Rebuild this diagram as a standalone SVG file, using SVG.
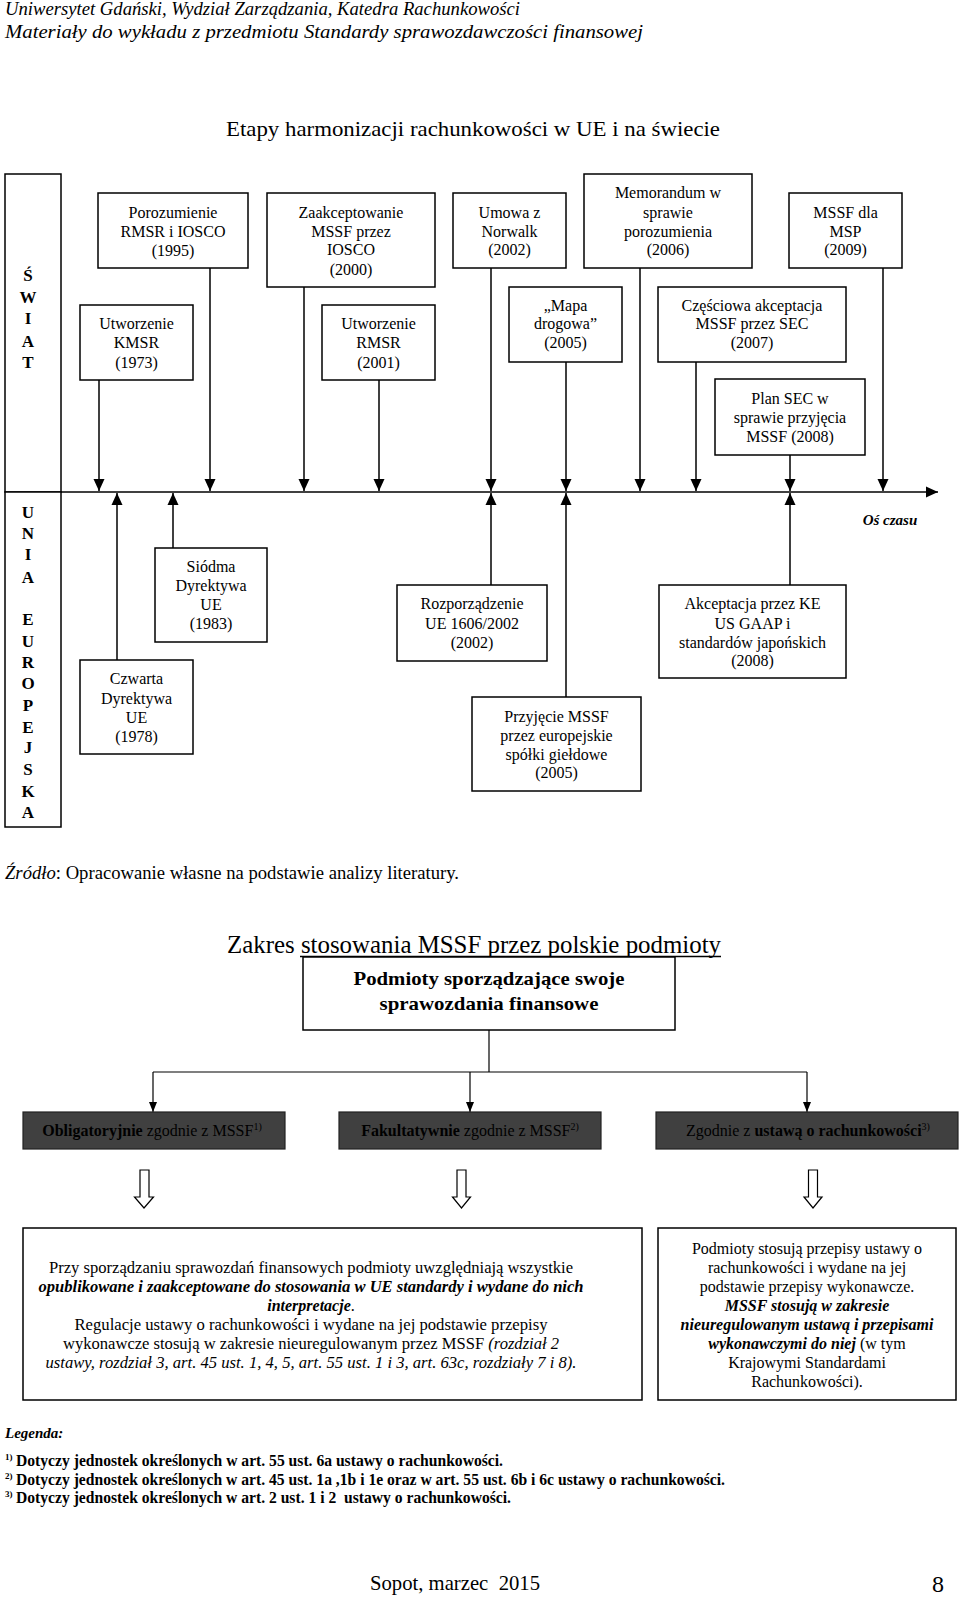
<svg xmlns="http://www.w3.org/2000/svg" width="960" height="1597" viewBox="0 0 960 1597">
<style>
.box{fill:#fff;stroke:#000;stroke-width:1.5}
.dark{fill:#404040;stroke:#222;stroke-width:1.2}
.t{font-family:"Liberation Serif","Times New Roman",serif;font-size:16px;text-anchor:middle;fill:#000}
.s{font-family:"Liberation Serif","Times New Roman",serif;fill:#000}
.L{font-family:"Liberation Serif","Times New Roman",serif;font-size:17px;font-weight:bold;text-anchor:middle;fill:#000}
.c{stroke:#000;stroke-width:1.5;fill:none}
.c2{stroke:#000;stroke-width:1.2;fill:none}
.b{font-weight:bold}
.i{font-style:italic}
.bi{font-weight:bold;font-style:italic}
.hollow{fill:#fff;stroke:#000;stroke-width:1.2}
</style>
<defs>
<marker id="ah" markerUnits="userSpaceOnUse" markerWidth="12" markerHeight="12" refX="12" refY="6" orient="auto"><path d="M0,0.5 L12,6 L0,11.5 z" fill="#000"/></marker>
<marker id="ah2" markerUnits="userSpaceOnUse" markerWidth="10" markerHeight="8" refX="10" refY="4" orient="auto"><path d="M0,0 L10,4 L0,8 z" fill="#000"/></marker>
</defs>
<rect width="960" height="1597" fill="#fff"/>

<!-- header -->
<g id="header">
<text class="s i" x="5" y="15" font-size="19" textLength="515" lengthAdjust="spacingAndGlyphs">Uniwersytet Gdański, Wydział Zarządzania, Katedra Rachunkowości</text>
<text class="s i" x="5" y="38" font-size="19" textLength="638" lengthAdjust="spacingAndGlyphs">Materiały do wykładu z przedmiotu Standardy sprawozdawczości finansowej</text>
<text class="s" x="226" y="136" font-size="21" textLength="494" lengthAdjust="spacingAndGlyphs">Etapy harmonizacji rachunkowości w UE i na świecie</text>
</g>

<!-- left column -->
<g id="swiat">
<rect class="box" x="5" y="174" width="56" height="318"/>
<text class="L" x="28" y="281">Ś</text>
<text class="L" x="28" y="303">W</text>
<text class="L" x="28" y="324">I</text>
<text class="L" x="28" y="347">A</text>
<text class="L" x="28" y="368">T</text>
</g>
<g id="unia">
<rect class="box" x="5" y="492" width="56" height="335"/>
<text class="L" x="28" y="518">U</text>
<text class="L" x="28" y="539">N</text>
<text class="L" x="28" y="560">I</text>
<text class="L" x="28" y="583">A</text>
<text class="L" x="28" y="625">E</text>
<text class="L" x="28" y="647">U</text>
<text class="L" x="28" y="668">R</text>
<text class="L" x="28" y="689">O</text>
<text class="L" x="28" y="711">P</text>
<text class="L" x="28" y="733">E</text>
<text class="L" x="28" y="753">J</text>
<text class="L" x="28" y="775">S</text>
<text class="L" x="28" y="797">K</text>
<text class="L" x="28" y="818">A</text>
</g>

<!-- connectors -->
<g id="connectors">
<line class="c" x1="61" y1="492" x2="938" y2="492" marker-end="url(#ah)"/>
<line class="c" x1="99" y1="380" x2="99" y2="491" marker-end="url(#ah)"/>
<line class="c" x1="210" y1="268" x2="210" y2="491" marker-end="url(#ah)"/>
<line class="c" x1="304" y1="287" x2="304" y2="491" marker-end="url(#ah)"/>
<line class="c" x1="379" y1="380" x2="379" y2="491" marker-end="url(#ah)"/>
<line class="c" x1="491" y1="268" x2="491" y2="491" marker-end="url(#ah)"/>
<line class="c" x1="566" y1="362" x2="566" y2="491" marker-end="url(#ah)"/>
<line class="c" x1="640" y1="268" x2="640" y2="491" marker-end="url(#ah)"/>
<line class="c" x1="696" y1="362" x2="696" y2="491" marker-end="url(#ah)"/>
<line class="c" x1="790" y1="455" x2="790" y2="491" marker-end="url(#ah)"/>
<line class="c" x1="883" y1="268" x2="883" y2="491" marker-end="url(#ah)"/>
<line class="c" x1="117" y1="660" x2="117" y2="493" marker-end="url(#ah)"/>
<line class="c" x1="173" y1="548" x2="173" y2="493" marker-end="url(#ah)"/>
<line class="c" x1="491" y1="585" x2="491" y2="493" marker-end="url(#ah)"/>
<line class="c" x1="566" y1="697" x2="566" y2="493" marker-end="url(#ah)"/>
<line class="c" x1="790" y1="585" x2="790" y2="493" marker-end="url(#ah)"/>
<polyline class="c2" points="489,1030 489,1072"/>
<line class="c2" x1="153" y1="1072" x2="807" y2="1072"/>
<line class="c2" x1="153" y1="1072" x2="153" y2="1112" marker-end="url(#ah2)"/>
<line class="c2" x1="470" y1="1072" x2="470" y2="1112" marker-end="url(#ah2)"/>
<line class="c2" x1="807" y1="1072" x2="807" y2="1112" marker-end="url(#ah2)"/>
<path class="hollow" d="M140,1170 H149 V1197 H153.5 L144,1208 L134.5,1197 H140 Z"/>
<path class="hollow" d="M457,1170 H466 V1197 H470.5 L461.5,1208 L452.5,1197 H457 Z"/>
<path class="hollow" d="M808.5,1170 H817.5 V1197 H822 L813,1208 L804,1197 H808.5 Z"/>
</g>

<!-- world nodes -->
<g id="n-kmsr"><rect class="box" x="80" y="305" width="113" height="75"/>
<text class="t" x="136.5" y="328.5">Utworzenie</text><text class="t" x="136.5" y="347.5">KMSR</text><text class="t" x="136.5" y="367.5">(1973)</text></g>
<g id="n-porozumienie"><rect class="box" x="98" y="193" width="150" height="75"/>
<text class="t" x="173" y="217.5">Porozumienie</text><text class="t" x="173" y="236.5">RMSR i IOSCO</text><text class="t" x="173" y="255.5">(1995)</text></g>
<g id="n-zaakceptowanie"><rect class="box" x="267" y="193" width="168" height="94"/>
<text class="t" x="351" y="217.5">Zaakceptowanie</text><text class="t" x="351" y="236.5">MSSF przez</text><text class="t" x="351" y="254.5">IOSCO</text><text class="t" x="351" y="274.5">(2000)</text></g>
<g id="n-rmsr"><rect class="box" x="322" y="305" width="113" height="75"/>
<text class="t" x="378.5" y="328.5">Utworzenie</text><text class="t" x="378.5" y="347.5">RMSR</text><text class="t" x="378.5" y="367.5">(2001)</text></g>
<g id="n-norwalk"><rect class="box" x="453" y="193" width="113" height="75"/>
<text class="t" x="509.5" y="217.5">Umowa z</text><text class="t" x="509.5" y="236.5">Norwalk</text><text class="t" x="509.5" y="254.5">(2002)</text></g>
<g id="n-mapa"><rect class="box" x="509" y="287" width="113" height="75"/>
<text class="t" x="565.5" y="310.5">„Mapa</text><text class="t" x="565.5" y="328.5">drogowa”</text><text class="t" x="565.5" y="347.5">(2005)</text></g>
<g id="n-memorandum"><rect class="box" x="584" y="174" width="168" height="94"/>
<text class="t" x="668" y="197.5">Memorandum w</text><text class="t" x="668" y="217.5">sprawie</text><text class="t" x="668" y="236.5">porozumienia</text><text class="t" x="668" y="254.5">(2006)</text></g>
<g id="n-czesciowa"><rect class="box" x="658" y="287" width="188" height="75"/>
<text class="t" x="752" y="310.5">Częściowa akceptacja</text><text class="t" x="752" y="328.5">MSSF przez SEC</text><text class="t" x="752" y="347.5">(2007)</text></g>
<g id="n-msp"><rect class="box" x="789" y="193" width="113" height="75"/>
<text class="t" x="845.5" y="217.5">MSSF dla</text><text class="t" x="845.5" y="236.5">MSP</text><text class="t" x="845.5" y="254.5">(2009)</text></g>
<g id="n-plansec"><rect class="box" x="715" y="379" width="150" height="76"/>
<text class="t" x="790" y="403.5">Plan SEC w</text><text class="t" x="790" y="422.5">sprawie przyjęcia</text><text class="t" x="790" y="441.5">MSSF (2008)</text></g>

<!-- EU nodes -->
<g id="n-czwarta"><rect class="box" x="80" y="660" width="113" height="94"/>
<text class="t" x="136.5" y="683.5">Czwarta</text><text class="t" x="136.5" y="703.5">Dyrektywa</text><text class="t" x="136.5" y="722.5">UE</text><text class="t" x="136.5" y="741.5">(1978)</text></g>
<g id="n-siodma"><rect class="box" x="155" y="548" width="112" height="94"/>
<text class="t" x="211" y="571.5">Siódma</text><text class="t" x="211" y="590.5">Dyrektywa</text><text class="t" x="211" y="609.5">UE</text><text class="t" x="211" y="628.5">(1983)</text></g>
<g id="n-rozporzadzenie"><rect class="box" x="397" y="585" width="150" height="76"/>
<text class="t" x="472" y="608.5">Rozporządzenie</text><text class="t" x="472" y="628.5">UE 1606/2002</text><text class="t" x="472" y="647.5">(2002)</text></g>
<g id="n-przyjecie"><rect class="box" x="472" y="697" width="169" height="94"/>
<text class="t" x="556.5" y="721.5">Przyjęcie MSSF</text><text class="t" x="556.5" y="740.5">przez europejskie</text><text class="t" x="556.5" y="759.5">spółki giełdowe</text><text class="t" x="556.5" y="777.5">(2005)</text></g>
<g id="n-akceptacja"><rect class="box" x="659" y="585" width="187" height="93"/>
<text class="t" x="752.5" y="608.5">Akceptacja przez KE</text><text class="t" x="752.5" y="628.5">US GAAP i</text><text class="t" x="752.5" y="647.5">standardów japońskich</text><text class="t" x="752.5" y="665.5">(2008)</text></g>
<g id="axis-label"><text class="s bi" x="890" y="525" font-size="15" text-anchor="middle">Oś czasu</text></g>

<g id="source"><text class="s" x="5" y="879" font-size="18" textLength="454" lengthAdjust="spacingAndGlyphs"><tspan class="i">Źródło</tspan>: Opracowanie własne na podstawie analizy literatury.</text></g>

<!-- second diagram -->
<g id="title2">
<text class="s" x="227" y="953" font-size="26" textLength="494" lengthAdjust="spacingAndGlyphs">Zakres stosowania MSSF przez polskie podmioty</text>
<line x1="300" y1="956.5" x2="721" y2="956.5" stroke="#000" stroke-width="1.3"/>
</g>
<g id="n-podmioty"><rect class="box" x="303" y="957" width="372" height="73"/>
<text class="s b" x="489" y="985" font-size="19" text-anchor="middle" textLength="271" lengthAdjust="spacingAndGlyphs">Podmioty sporządzające swoje</text>
<text class="s b" x="489" y="1010" font-size="19" text-anchor="middle" textLength="219" lengthAdjust="spacingAndGlyphs">sprawozdania finansowe</text></g>

<g id="n-obligatoryjnie"><rect class="dark" x="23" y="1112" width="262" height="37"/>
<text class="s" x="152" y="1136" font-size="16" text-anchor="middle" fill="#111"><tspan class="b">Obligatoryjnie</tspan> zgodnie z MSSF<tspan font-size="10" dy="-6">1)</tspan></text></g>
<g id="n-fakultatywnie"><rect class="dark" x="339" y="1112" width="262" height="37"/>
<text class="s" x="470" y="1136" font-size="16" text-anchor="middle" fill="#111"><tspan class="b">Fakultatywnie</tspan> zgodnie z MSSF<tspan font-size="10" dy="-6">2)</tspan></text></g>
<g id="n-ustawa"><rect class="dark" x="656" y="1112" width="302" height="37"/>
<text class="s" x="808" y="1136" font-size="16" text-anchor="middle" fill="#111">Zgodnie z <tspan class="b">ustawą o rachunkowości</tspan><tspan font-size="10" dy="-6">3)</tspan></text></g>

<g id="n-opis1"><rect class="box" x="23" y="1228" width="619" height="172"/>
<text class="t" x="311" y="1272.5" textLength="524" lengthAdjust="spacingAndGlyphs">Przy sporządzaniu sprawozdań finansowych podmioty uwzględniają wszystkie</text>
<text class="t bi" x="311" y="1291.5" textLength="545" lengthAdjust="spacingAndGlyphs">opublikowane i zaakceptowane do stosowania w UE standardy i wydane do nich</text>
<text class="t" x="311" y="1310.5"><tspan class="bi">interpretacje</tspan>.</text>
<text class="t" x="311" y="1329.5" textLength="473" lengthAdjust="spacingAndGlyphs">Regulacje ustawy o rachunkowości i wydane na jej podstawie przepisy</text>
<text class="t" x="311" y="1348.5" textLength="496" lengthAdjust="spacingAndGlyphs">wykonawcze stosują w zakresie nieuregulowanym przez MSSF <tspan class="i">(rozdział 2</tspan></text>
<text class="t i" x="311" y="1367.5" textLength="531" lengthAdjust="spacingAndGlyphs">ustawy, rozdział 3, art. 45 ust. 1, 4, 5, art. 55 ust. 1 i 3, art. 63c, rozdziały 7 i 8).</text>
</g>
<g id="n-opis2"><rect class="box" x="658" y="1228" width="298" height="172"/>
<text class="t" x="807" y="1253.5">Podmioty stosują przepisy ustawy o</text>
<text class="t" x="807" y="1272.5">rachunkowości i wydane na jej</text>
<text class="t" x="807" y="1291.5">podstawie przepisy wykonawcze.</text>
<text class="t bi" x="807" y="1310.5">MSSF stosują w zakresie</text>
<text class="t bi" x="807" y="1329.5">nieuregulowanym ustawą i przepisami</text>
<text class="t" x="807" y="1348.5"><tspan class="bi">wykonawczymi do niej</tspan> (w tym</text>
<text class="t" x="807" y="1367.5">Krajowymi Standardami</text>
<text class="t" x="807" y="1386.5">Rachunkowości).</text>
</g>

<g id="legend">
<text class="s bi" x="5" y="1438" font-size="15">Legenda:</text>
<text class="s b" x="5" y="1460" font-size="9">1)</text>
<text class="s b" x="16" y="1466" font-size="16" textLength="487" lengthAdjust="spacingAndGlyphs">Dotyczy jednostek określonych w art. 55 ust. 6a ustawy o rachunkowości.</text>
<text class="s b" x="5" y="1479" font-size="9">2)</text>
<text class="s b" x="16" y="1485" font-size="16" textLength="709" lengthAdjust="spacingAndGlyphs">Dotyczy jednostek określonych w art. 45 ust. 1a ,1b i 1e oraz w art. 55 ust. 6b i 6c ustawy o rachunkowości.</text>
<text class="s b" x="5" y="1497" font-size="9">3)</text>
<text class="s b" x="16" y="1503" font-size="16" textLength="495" lengthAdjust="spacingAndGlyphs" xml:space="preserve">Dotyczy jednostek określonych w art. 2 ust. 1 i 2  ustawy o rachunkowości.</text>
</g>

<g id="footer">
<text class="s" x="455" y="1590" font-size="21" text-anchor="middle" textLength="170" lengthAdjust="spacingAndGlyphs" xml:space="preserve">Sopot, marzec  2015</text>
<text class="s" x="938" y="1592" font-size="24" text-anchor="middle">8</text>
</g>
</svg>
